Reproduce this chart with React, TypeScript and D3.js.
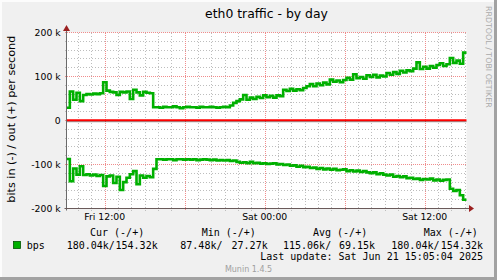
import React from 'react';
import * as d3 from 'd3';

const W = 497;
const H = 280;

const startTime = new Date(2025, 5, 20, 9, 8);
const endTime = new Date(2025, 5, 21, 15, 8);
const stepMinutes = 15;

// out (+) traffic, kbit/s, one value per 15 minutes
const outValues = [
  29, 66, 47, 63, 44, 58, 60, 59, 61, 60, 62, 87, 68, 65, 64, 58, 65, 64, 66, 49,
  70, 64, 57, 65, 63, 62, 30, 30, 29, 31, 30, 30, 32, 30, 28, 30, 31, 30, 30, 29,
  31, 30, 30, 31, 30, 29, 30, 31, 30, 34, 40, 44, 48, 58, 47, 52, 49, 54, 51, 57,
  53, 56, 52, 57, 55, 70, 67, 72, 68, 71, 69, 74, 78, 83, 78, 84, 80, 86, 82, 93,
  88, 91, 87, 92, 97, 93, 105, 96, 99, 95, 103, 99, 104, 98, 102, 100, 108, 104, 110, 106,
  113, 109, 114, 112, 118, 132, 117, 122, 118, 124, 120, 126, 130, 124, 128, 142, 131, 136, 129, 154.32,
];

// in (-) traffic, kbit/s, drawn below zero
const inValues = [
  87.48, 138, 109, 123, 104, 124, 122, 125, 123, 126, 124, 149, 127, 125, 142, 128, 158, 140, 130, 122,
  115, 145, 125, 130, 126, 129, 110, 88, 88, 89, 88, 88, 90, 88, 88, 89, 88, 89, 88, 90,
  89, 88, 89, 90, 89, 91, 90, 91, 90, 92, 91, 94, 96, 95, 97, 94, 97, 96, 98, 97,
  99, 98, 97, 100, 99, 101, 100, 103, 102, 105, 103, 106, 105, 108, 107, 110, 108, 111, 109, 112,
  110, 113, 112, 111, 115, 113, 116, 114, 117, 115, 118, 120, 118, 122, 120, 123, 125, 123, 128, 126,
  129, 127, 131, 130, 133, 132, 135, 133, 134, 132, 136, 134, 137, 135, 134, 155, 160, 158, 170, 180.04,
];

const yTicks = [-200, -100, 0, 100, 200];
const yTickLabels = ['-200 k', '-100 k', '0', '100 k', '200 k'];
const xLabelTimes = [
  new Date(2025, 5, 20, 12, 0),
  new Date(2025, 5, 21, 0, 0),
  new Date(2025, 5, 21, 12, 0),
];
const xLabels = ['Fri 12:00', 'Sat 00:00', 'Sat 12:00'];

const legendHeaders = ['Cur (-/+)', 'Min (-/+)', 'Avg (-/+)', 'Max (-/+)'];
const legendIn = ['180.04k/', '87.48k/', '115.06k/', '180.04k/'];
const legendOut = ['154.32k', '27.27k', '69.15k', '154.32k'];
const seriesName = 'bps';

const GREEN = '#00b000';

export default function App() {
  const left = 66.5;
  const right = 466.5;
  const top = 32.5;
  const bottom = 208.5;

  const x = d3.scaleTime().domain([startTime, endTime]).range([left, right]);
  const y = d3.scaleLinear().domain([-200, 200]).range([bottom, top]);

  const toPoints = (vals: number[], sign: number) => {
    const pts = vals.map((v, i) => ({
      t: new Date(startTime.getTime() + i * stepMinutes * 60000),
      v: sign * v,
    }));
    pts.push({ t: endTime, v: sign * vals[vals.length - 1] });
    return pts;
  };

  const line = d3
    .line<{ t: Date; v: number }>()
    .x((d) => x(d.t))
    .y((d) => y(d.v))
    .curve(d3.curveStepAfter);

  const outPath = line(toPoints(outValues, 1)) || '';
  const inPath = line(toPoints(inValues, -1)) || '';

  const yMinor = d3.range(-200, 201, 20).filter((v) => v % 100 !== 0);
  const hours = d3.timeHour.range(d3.timeHour.ceil(startTime), endTime);
  const xMinor = hours.filter((h) => h.getHours() % 6 !== 0);
  const xMajor = hours.filter((h) => h.getHours() % 6 === 0);

  const sans = 'DejaVu Sans, sans-serif';
  const mono = 'DejaVu Sans Mono, monospace';

  const legendStartX = [66.7, 180.3, 283, 391.3];
  const legendEndX = [157.7, 267.7, 375, 483];
  const headerX = [90, 201.7, 313, 423.7];

  return (
    <svg
      width={W}
      height={H}
      viewBox={`0 0 ${W} ${H}`}
      style={{ position: 'absolute', left: 0, top: 0, display: 'block' }}
    >
      <rect x={0} y={0} width={W} height={H} fill="#f0f0f0" />
      {/* 3D border */}
      <path d={`M0,0 H${W} V2 H2 V${H} H0 Z`} fill="#fcfcfc" />
      <path d={`M${W},${H} H0 V${H - 3} H${W - 3} V0 H${W} Z`} fill="#a2a2a2" />

      {/* canvas */}
      <rect x={left} y={top} width={right - left} height={bottom - top} fill="#ffffff" />

      {/* minor grid */}
      <g stroke="#bdbdbd" strokeWidth={1} strokeDasharray="1,2" shapeRendering="crispEdges">
        {yMinor.map((v) => (
          <line key={'ym' + v} x1={left - 2} x2={right} y1={y(v)} y2={y(v)} />
        ))}
        {xMinor.map((h) => (
          <line key={'xm' + h.getTime()} x1={Math.round(x(h)) + 0.5} x2={Math.round(x(h)) + 0.5} y1={top} y2={bottom + 2} />
        ))}
      </g>
      {/* major grid */}
      <g stroke="#f08c8c" strokeWidth={1} strokeDasharray="1,1" shapeRendering="crispEdges">
        {yTicks.map((v) => (
          <line key={'yM' + v} x1={left - 2} x2={right} y1={y(v)} y2={y(v)} />
        ))}
        {xMajor.map((h) => (
          <line key={'xM' + h.getTime()} x1={Math.round(x(h)) + 0.5} x2={Math.round(x(h)) + 0.5} y1={top} y2={bottom + 2} />
        ))}
      </g>

      {/* data */}
      <path d={outPath} fill="none" stroke={GREEN} strokeWidth={2.6} strokeLinejoin="miter" />
      <path d={inPath} fill="none" stroke={GREEN} strokeWidth={2.6} strokeLinejoin="miter" />

      {/* zero line */}
      <line x1={left} x2={right} y1={y(0) + 1.2} y2={y(0) + 1.2} stroke="#000000" strokeWidth={0.7} opacity={0.7} />
      <line x1={left} x2={right} y1={y(0) - 0.3} y2={y(0) - 0.3} stroke="#ff0000" strokeWidth={2} />

      {/* axes */}
      <line x1={left} x2={left} y1={bottom + 2} y2={top - 4} stroke="#6a6a6a" strokeWidth={1} />
      <line x1={left - 2} x2={right + 3} y1={bottom} y2={bottom} stroke="#6a5a5a" strokeWidth={1} />
      <path d={`M${left},${top - 7.5} L${left - 3.5},${top - 1.5} L${left + 3.5},${top - 1.5} Z`} fill="#9b2020" />
      <path d={`M${right + 7.5},${bottom} L${right + 2.5},${bottom - 3.5} L${right + 2.5},${bottom + 3.5} Z`} fill="#9b2020" />

      {/* y tick labels */}
      <g fontFamily={sans} fontSize={9.3} fill="#000" textAnchor="end">
        {yTicks.map((v, i) => (
          <text key={'yl' + v} x={60.7} y={y(v) + 3.3}>
            {yTickLabels[i]}
          </text>
        ))}
      </g>
      {/* x tick labels */}
      <g fontFamily={sans} fontSize={9.3} fill="#000" textAnchor="middle">
        {xLabelTimes.map((t, i) => (
          <text key={'xl' + i} x={x(t)} y={220}>
            {xLabels[i]}
          </text>
        ))}
      </g>

      {/* title */}
      <text x={(left + right) / 2} y={18} fontFamily={sans} fontSize={12.4} textAnchor="middle" fill="#000">
        eth0 traffic - by day
      </text>

      {/* y axis title */}
      <text
        transform="translate(14.5,119.2) rotate(-90)"
        fontFamily={sans}
        fontSize={11.2}
        textAnchor="middle"
        fill="#000"
      >
        bits in (-) / out (+) per second
      </text>

      {/* watermark */}
      <text
        transform="translate(486.3,6) rotate(90)"
        fontFamily={sans}
        fontSize={7.9}
        fill="#aaaaaa"
      >
        RRDTOOL / TOBI OETIKER
      </text>

      {/* legend */}
      <g fontFamily={mono} fontSize={10} fill="#000" style={{ whiteSpace: 'pre' }}>
        {legendHeaders.map((h, i) => (
          <text key={'lh' + i} x={headerX[i]} y={235.7}>
            {h}
          </text>
        ))}
        <rect x={13.5} y={241.5} width={7} height={7} fill={GREEN} stroke="#005500" strokeWidth={0.8} />
        <text x={26.7} y={249.3}>{seriesName}</text>
        {legendIn.map((s, i) => (
          <text key={'li' + i} x={legendStartX[i]} y={249.3}>
            {s}
          </text>
        ))}
        {legendOut.map((s, i) => (
          <text key={'lo' + i} x={legendEndX[i]} y={249.3} textAnchor="end">
            {s}
          </text>
        ))}
        <text x={483} y={260} textAnchor="end">
          Last update: Sat Jun 21 15:05:04 2025
        </text>
      </g>
      <text x={248.5} y={271.7} fontFamily={sans} fontSize={8} fill="#a0a0a0" textAnchor="middle">
        Munin 1.4.5
      </text>
    </svg>
  );
}
